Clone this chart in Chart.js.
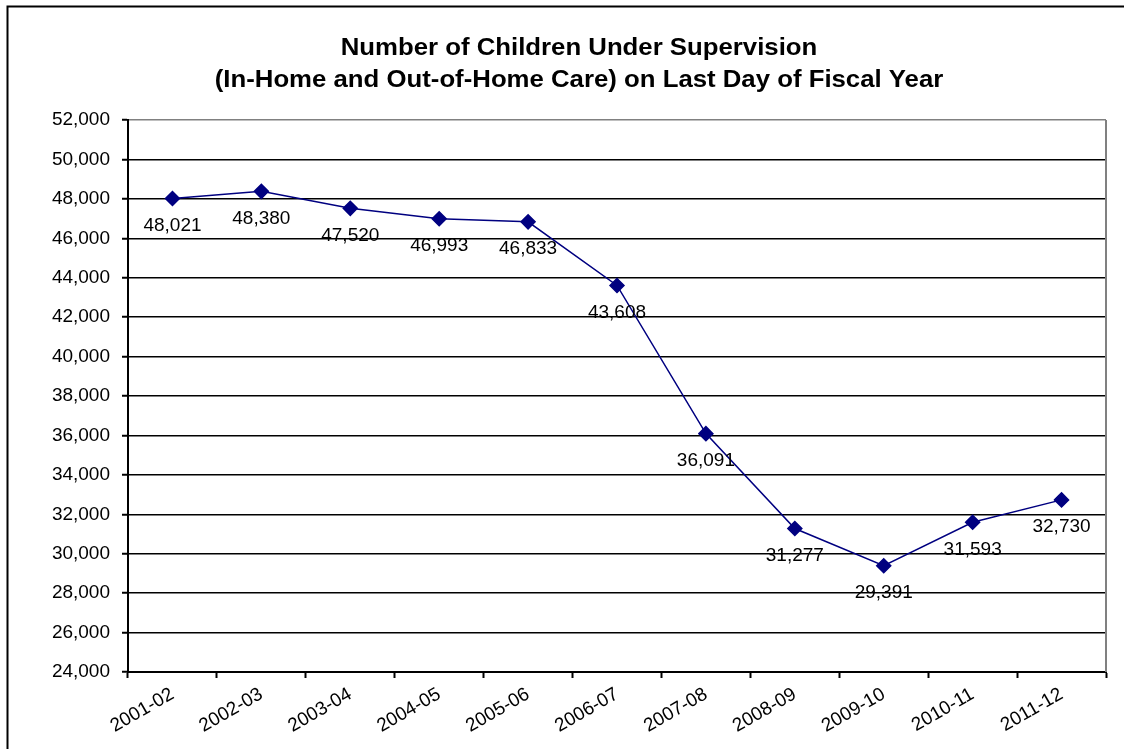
<!DOCTYPE html>
<html>
<head>
<meta charset="utf-8">
<script src="https://cdn.jsdelivr.net/npm/chart.js@4/dist/chart.umd.min.js"></script>
<style>
  html, body { margin: 0; padding: 0; background: #fff; }
  canvas { display: block; }
</style>
</head>
<body>
<canvas id="supervisionChart" width="1124" height="749"></canvas>
<script>
var fiscalYears = ["2001-02", "2002-03", "2003-04", "2004-05", "2005-06", "2006-07",
                   "2007-08", "2008-09", "2009-10", "2010-11", "2011-12"];
var childrenCount = [48021, 48380, 47520, 46993, 46833, 43608, 36091, 31277, 29391, 31593, 32730];
var chartTitle = ["Number of Children Under Supervision",
                  "(In-Home and Out-of-Home Care) on Last Day of Fiscal Year"];

var FONT = "'Liberation Sans', Arial, sans-serif";

// frame line on the left and top of the whole chart, gray border right of plot
var framePlugin = {
    id: 'frame',
    beforeDraw: function (chart) {
        var ctx = chart.ctx;
        ctx.save();
        ctx.strokeStyle = '#000';
        ctx.lineWidth = 2;
        ctx.beginPath();
        ctx.moveTo(7.5, 749);
        ctx.lineTo(7.5, 6.5);
        ctx.lineTo(1124, 6.5);
        ctx.stroke();
        ctx.restore();
    },
    beforeDatasetsDraw: function (chart) {
        var ctx = chart.ctx, a = chart.chartArea;
        ctx.save();
        ctx.strokeStyle = '#808080';
        ctx.lineWidth = 2;
        ctx.beginPath();
        ctx.moveTo(a.right, a.top);
        ctx.lineTo(a.right, a.bottom);
        ctx.stroke();
        ctx.restore();
    }
};

// two-line bold title, slightly stretched sideways like the old Excel look
var titlePlugin = {
    id: 'wideTitle',
    afterDraw: function (chart) {
        var ctx = chart.ctx;
        var cx = (chart.chartArea.left + chart.chartArea.right) / 2 - 38;
        ctx.save();
        ctx.font = 'bold 23px ' + FONT;
        ctx.fillStyle = '#000';
        ctx.textAlign = 'center';
        ctx.textBaseline = 'middle';
        chartTitle.forEach(function (line, i) {
            ctx.save();
            ctx.translate(cx, 49 + i * 32);
            ctx.scale(1.12, 1);
            ctx.fillText(line, 0, 0);
            ctx.restore();
        });
        ctx.restore();
    }
};

// value labels under each point
var valueLabels = {
    id: 'valueLabels',
    afterDatasetsDraw: function (chart) {
        var ctx = chart.ctx;
        var meta = chart.getDatasetMeta(0);
        ctx.save();
        ctx.font = '19px ' + FONT;
        ctx.fillStyle = '#000';
        ctx.textAlign = 'center';
        ctx.textBaseline = 'middle';
        meta.data.forEach(function (pt, i) {
            ctx.fillText(childrenCount[i].toLocaleString('en-US'), pt.x, pt.y + 27);
        });
        ctx.restore();
    }
};

new Chart(document.getElementById('supervisionChart'), {
    type: 'line',
    data: {
        labels: fiscalYears,
        datasets: [{
            data: childrenCount,
            borderColor: '#000080',
            backgroundColor: '#000080',
            borderWidth: 1.5,
            pointStyle: 'rectRot',
            pointRadius: 7,
            pointHoverRadius: 7,
            tension: 0
        }]
    },
    options: {
        responsive: false,
        animation: false,
        layout: { padding: { left: 0, right: 18, top: 120, bottom: 0 } },
        plugins: {
            legend: { display: false },
            tooltip: { enabled: false },
            title: { display: false }
        },
        scales: {
            x: {
                offset: true,
                grid: {
                    offset: true,
                    drawOnChartArea: false,
                    drawTicks: true,
                    tickLength: 6,
                    tickWidth: 2,
                    tickColor: '#000'
                },
                border: { color: '#000', width: 2 },
                ticks: {
                    color: '#000',
                    font: { family: FONT, size: 19 },
                    minRotation: 30,
                    maxRotation: 30,
                    padding: 5
                },
                afterFit: function (scale) { scale.height = 77; }
            },
            y: {
                min: 24000,
                max: 52000,
                ticks: {
                    stepSize: 2000,
                    color: '#000',
                    font: { family: FONT, size: 19 },
                    padding: 12,
                    callback: function (v) { return v.toLocaleString('en-US'); }
                },
                grid: {
                    color: function (c) { return c.tick && c.tick.value === 52000 ? '#808080' : '#000'; },
                    lineWidth: 1.5,
                    tickLength: 6,
                    tickColor: '#000',
                    tickWidth: 2
                },
                border: { color: '#000', width: 2 },
                afterFit: function (scale) { scale.width = 128; }
            }
        }
    },
    plugins: [framePlugin, titlePlugin, valueLabels]
});
</script>
</body>
</html>
